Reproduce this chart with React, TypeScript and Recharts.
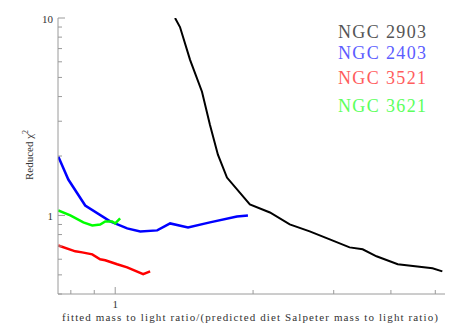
import { LineChart, Line, XAxis, YAxis } from "recharts";

// reduced chi^2 vs M/L ratio relative to a diet Salpeter prediction
const ngc2903 = [
  { x: 1.351, y: 10.0 }, { x: 1.385, y: 9.0 }, { x: 1.457, y: 6.14 }, { x: 1.547, y: 4.23 },
  { x: 1.61, y: 2.88 }, { x: 1.676, y: 2.03 }, { x: 1.754, y: 1.556 }, { x: 1.968, y: 1.137 },
  { x: 2.177, y: 1.035 }, { x: 2.405, y: 0.901 }, { x: 2.659, y: 0.83 }, { x: 2.941, y: 0.756 },
  { x: 3.25, y: 0.689 }, { x: 3.47, y: 0.674 }, { x: 3.72, y: 0.621 }, { x: 4.14, y: 0.566 },
  { x: 4.93, y: 0.54 }, { x: 5.18, y: 0.521 },
];
const ngc2403 = [
  { x: 0.751, y: 1.986 }, { x: 0.79, y: 1.52 }, { x: 0.86, y: 1.123 }, { x: 0.975, y: 0.933 },
  { x: 1.062, y: 0.86 }, { x: 1.134, y: 0.83 }, { x: 1.235, y: 0.84 }, { x: 1.318, y: 0.911 },
  { x: 1.442, y: 0.87 }, { x: 1.61, y: 0.922 }, { x: 1.844, y: 0.988 }, { x: 1.949, y: 1.0 },
];
const ngc3521 = [
  { x: 0.751, y: 0.705 }, { x: 0.818, y: 0.658 }, { x: 0.847, y: 0.65 }, { x: 0.891, y: 0.635 },
  { x: 0.927, y: 0.6 }, { x: 0.951, y: 0.593 }, { x: 1.01, y: 0.566 }, { x: 1.062, y: 0.546 },
  { x: 1.151, y: 0.504 }, { x: 1.192, y: 0.521 },
];
const ngc3621 = [
  { x: 0.751, y: 1.06 }, { x: 0.798, y: 1.0 }, { x: 0.852, y: 0.922 }, { x: 0.891, y: 0.89 },
  { x: 0.927, y: 0.9 }, { x: 0.951, y: 0.933 }, { x: 0.985, y: 0.933 }, { x: 1.0, y: 0.911 },
  { x: 1.025, y: 0.966 },
];

const xTicks = [0.8, 0.9, 1, 2, 3, 4, 5];
const yTicks = [0.4, 0.5, 0.6, 0.7, 0.8, 0.9, 1, 2, 3, 4, 5, 6, 7, 8, 9, 10];
const majorTicks = [1, 10];

const legend = [
  { name: "NGC 2903", color: "#555555", y: 32 },
  { name: "NGC 2403", color: "#5c5cff", y: 53 },
  { name: "NGC 3521", color: "#ff5c5c", y: 78 },
  { name: "NGC 3621", color: "#5cff5c", y: 106 },
];

const AXIS = "#9a9a9a";
const TEXT = "#333333";
const FONT = "Liberation Serif, serif";

function XTick({ x, y, payload, top }: any) {
  const major = majorTicks.includes(payload.value);
  const len = major ? 7 : 4;
  const dir = top ? 1 : -1;
  return (
    <g>
      <line x1={x} x2={x} y1={y} y2={y + dir * len} stroke={AXIS} />
      {!top && major && (
        <text x={x} y={y + 10} textAnchor="middle" dominantBaseline="central" fontSize={11} fill={TEXT} fontFamily={FONT}>
          {payload.value}
        </text>
      )}
    </g>
  );
}

function YTick({ x, y, payload, right }: any) {
  const major = majorTicks.includes(payload.value);
  const len = major ? 7 : 4;
  const dir = right ? -1 : 1;
  return (
    <g>
      <line x1={x} x2={x + dir * len} y1={y} y2={y} stroke={AXIS} />
      {!right && major && (
        <text x={x - 5} y={y + 1} textAnchor="end" dominantBaseline="central" fontSize={11} fill={TEXT} fontFamily={FONT}>
          {payload.value}
        </text>
      )}
    </g>
  );
}

export default function App() {
  return (
    <div style={{ position: "relative", width: 463, height: 331, background: "#fff" }}>
      <style>{"body{margin:0}"}</style>
      <LineChart width={463} height={331} margin={{ top: 18, right: 18, bottom: 0, left: 0 }}>
        <XAxis
          xAxisId="b" dataKey="x" type="number" scale="log" domain={[0.75, 5.25]} allowDataOverflow
          ticks={xTicks} tickSize={0} tickMargin={0} height={37} tick={<XTick />}
          axisLine={{ stroke: AXIS }} interval={0}
        />
        <XAxis
          xAxisId="t" orientation="top" dataKey="x" type="number" scale="log" domain={[0.75, 5.25]} allowDataOverflow
          ticks={xTicks} tickSize={0} tickMargin={0} height={0} tick={<XTick top />}
          axisLine={{ stroke: AXIS }} interval={0}
        />
        <YAxis
          yAxisId="l" dataKey="y" type="number" scale="log" domain={[0.4, 10]} allowDataOverflow
          ticks={yTicks} tickSize={0} tickMargin={0} width={58} tick={<YTick />}
          axisLine={{ stroke: AXIS }} interval={0}
        />
        <YAxis
          yAxisId="r" orientation="right" dataKey="y" type="number" scale="log" domain={[0.4, 10]} allowDataOverflow
          ticks={yTicks} tickSize={0} tickMargin={0} width={0} tick={<YTick right />}
          axisLine={{ stroke: AXIS }} interval={0}
        />
        <Line xAxisId="b" yAxisId="l" data={ngc2903} dataKey="y" stroke="#000000" strokeWidth={2} dot={false} isAnimationActive={false} />
        <Line xAxisId="b" yAxisId="l" data={ngc2403} dataKey="y" stroke="#0000ff" strokeWidth={2.5} dot={false} isAnimationActive={false} />
        <Line xAxisId="b" yAxisId="l" data={ngc3521} dataKey="y" stroke="#ff0000" strokeWidth={2.5} dot={false} isAnimationActive={false} />
        <Line xAxisId="b" yAxisId="l" data={ngc3621} dataKey="y" stroke="#00ff00" strokeWidth={2.5} dot={false} isAnimationActive={false} />
      </LineChart>
      <svg width={463} height={331} style={{ position: "absolute", left: 0, top: 0, pointerEvents: "none" }}>
        <text
          x={62} y={321} textLength={376} lengthAdjust="spacing"
          fontSize={11} fill={TEXT} fontFamily={FONT}
        >
          fitted mass to light ratio/(predicted diet Salpeter mass to light ratio)
        </text>
        <text
          transform="translate(33,155) rotate(-90)" textAnchor="middle"
          fontSize={11} fill={TEXT} fontFamily={FONT}
        >
          Reduced χ<tspan dy={-5} fontSize={8}>2</tspan>
        </text>
        {legend.map((l) => (
          <text
            key={l.name} x={338} y={l.y} dominantBaseline="central" textLength={88} lengthAdjust="spacing"
            fontSize={18} fill={l.color} fontFamily={FONT}
          >
            {l.name}
          </text>
        ))}
      </svg>
    </div>
  );
}
